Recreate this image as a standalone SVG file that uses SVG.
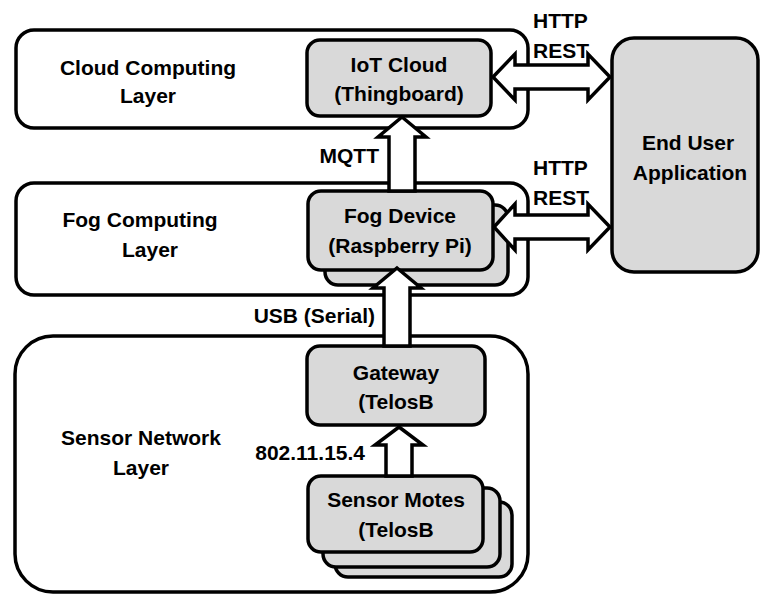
<svg xmlns="http://www.w3.org/2000/svg" width="763" height="595" viewBox="0 0 763 595">
<style>
.layer{fill:#fff;stroke:#000;stroke-width:3.5}
.box{fill:#d9d9d9;stroke:#000;stroke-width:3.5}
.arr{fill:#fff;stroke:#000;stroke-width:3.5;stroke-linejoin:miter}
text{font-family:"Liberation Sans",Arial,sans-serif;font-weight:bold;font-size:21px;fill:#000}
.c{text-anchor:middle}
.e{text-anchor:end}
</style>
<rect width="763" height="595" fill="#fff"/>
<g id="cloud-layer">
<rect class="layer" x="16" y="30" width="512" height="98" rx="18"/>
<text class="c" x="148" y="75">Cloud Computing</text>
<text class="c" x="148" y="103">Layer</text>
</g>
<g id="fog-layer">
<rect class="layer" x="16" y="183" width="512" height="112" rx="18"/>
<text class="c" x="140" y="227">Fog Computing</text>
<text class="c" x="150" y="257">Layer</text>
</g>
<g id="sensor-layer">
<rect class="layer" x="15" y="336" width="513" height="256" rx="38"/>
<text class="c" x="141" y="445">Sensor Network</text>
<text class="c" x="141" y="475">Layer</text>
</g>
<g id="iot-cloud">
<rect class="box" x="307" y="40" width="184" height="76" rx="13"/>
<text class="c" x="399" y="72">IoT Cloud</text>
<text class="c" x="399" y="101">(Thingboard)</text>
</g>
<g id="fog-device">
<rect class="box" x="325" y="205" width="183" height="80" rx="13"/>
<rect class="box" x="308" y="191" width="185" height="79" rx="13"/>
<text class="c" x="400" y="223">Fog Device</text>
<text class="c" x="400" y="253">(Raspberry Pi)</text>
</g>
<g id="gateway">
<rect class="box" x="307" y="346" width="178" height="79" rx="13"/>
<text class="c" x="396" y="380">Gateway</text>
<text class="c" x="396" y="409">(TelosB</text>
</g>
<g id="sensor-motes">
<rect class="box" x="335" y="502" width="177" height="75" rx="13"/>
<rect class="box" x="323" y="488" width="177" height="79" rx="13"/>
<rect class="box" x="308" y="476" width="175" height="76" rx="13"/>
<text class="c" x="396" y="507">Sensor Motes</text>
<text class="c" x="396" y="537">(TelosB</text>
</g>
<g id="end-user">
<rect class="box" x="612" y="38" width="146" height="234" rx="22"/>
<text class="c" x="688" y="150">End User</text>
<text class="c" x="690" y="180">Application</text>
</g>
<g id="connectors">
<polygon class="arr" points="402,117 426,137 415,137 415,191 389,191 389,137 378,137"/>
<polygon class="arr" points="397,268 421,288 410,288 410,346 384,346 384,288 373,288"/>
<polygon class="arr" points="399,427 423,445 412,445 412,476 386,476 386,445 375,445"/>
<polygon class="arr" points="493,77 515,54 515,65 588,65 588,54 610,77 588,100 588,89 515,89 515,100"/>
<polygon class="arr" points="494,227 515,204 515,215 588,215 588,204 610,227 588,250 588,239 515,239 515,250"/>
<text class="e" x="379" y="163">MQTT</text>
<text class="e" x="375" y="323">USB (Serial)</text>
<text class="e" x="365" y="460">802.11.15.4</text>
<text x="533" y="28">HTTP</text>
<text x="533" y="58">REST</text>
<text x="533" y="175">HTTP</text>
<text x="533" y="205">REST</text>
</g>
</svg>
